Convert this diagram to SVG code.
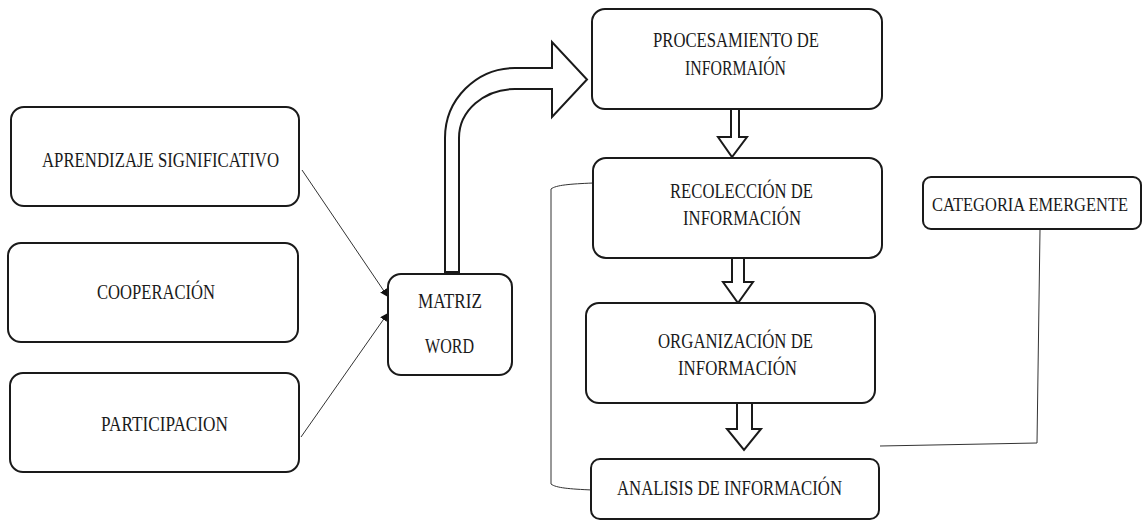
<svg xmlns="http://www.w3.org/2000/svg" width="1142" height="521" viewBox="0 0 1142 521">
<style>
.box{fill:#fff;stroke:#1a1a1a;stroke-width:2}
.t{font-family:'Liberation Serif','DejaVu Serif','Times New Roman',serif;font-size:21px;fill:#1a1a1a}
.ln{fill:none;stroke:#333;stroke-width:1}
.blk{fill:#fff;stroke:#1a1a1a;stroke-width:2;stroke-linejoin:miter}
</style>
<defs>
<marker id="ah" viewBox="0 0 10 10" refX="10" refY="5" markerWidth="8" markerHeight="8" orient="auto" markerUnits="userSpaceOnUse">
<path d="M0,0 L10,5 L0,10 Z" fill="#111"/>
</marker>
</defs>
<rect width="1142" height="521" fill="#fff"/>
<g id="connectors">
<line class="ln" x1="302" y1="170" x2="388" y2="297" marker-end="url(#ah)"/>
<line class="ln" x1="301" y1="437" x2="388" y2="313" marker-end="url(#ah)"/>
<path class="blk" d="M445,272 V138 A70,70 0 0 1 515,68 H552 V42 L587,79.5 L552,117 V89 H515 A56,49 0 0 0 459,138 V272 Z"/>
<path class="blk" d="M731,109 V137 H718 L732,157 L747,137 H739 V109"/>
<path class="blk" d="M732,258 V282 H723 L738,303 L753,282 H744 V258"/>
<path class="blk" d="M737,403 V429 H727 L744,450 L761,429 H752 V403"/>
<path class="ln" d="M593,183 C570,184 556,185 551,189 V484 C556,488 570,489 592,490"/>
<path class="ln" d="M1040,230 L1037,443 L880,446"/>
</g>
<g id="n-aprendizaje">
<rect class="box" x="11" y="107" width="288" height="99" rx="13"/>
<text class="t" x="42" y="167" textLength="237" lengthAdjust="spacingAndGlyphs">APRENDIZAJE SIGNIFICATIVO</text>
</g>
<g id="n-cooperacion">
<rect class="box" x="8" y="243" width="290" height="99" rx="13"/>
<text class="t" x="97" y="299" textLength="118" lengthAdjust="spacingAndGlyphs">COOPERACIÓN</text>
</g>
<g id="n-participacion">
<rect class="box" x="10" y="373" width="289" height="99" rx="13"/>
<text class="t" x="101" y="431" textLength="127" lengthAdjust="spacingAndGlyphs">PARTICIPACION</text>
</g>
<g id="n-matriz">
<rect class="box" x="388" y="274" width="124" height="101" rx="13"/>
<text class="t" x="418" y="308" textLength="64" lengthAdjust="spacingAndGlyphs">MATRIZ</text>
<text class="t" x="425" y="353" textLength="49" lengthAdjust="spacingAndGlyphs">WORD</text>
</g>
<g id="n-procesamiento">
<rect class="box" x="592" y="9" width="290" height="100" rx="13"/>
<text class="t" x="653" y="47" textLength="166" lengthAdjust="spacingAndGlyphs">PROCESAMIENTO DE</text>
<text class="t" x="685" y="75" textLength="101" lengthAdjust="spacingAndGlyphs">INFORMAIÓN</text>
</g>
<g id="n-recoleccion">
<rect class="box" x="593" y="158" width="289" height="100" rx="13"/>
<text class="t" x="670" y="198" textLength="143" lengthAdjust="spacingAndGlyphs">RECOLECCIÓN DE</text>
<text class="t" x="683" y="225" textLength="118" lengthAdjust="spacingAndGlyphs">INFORMACIÓN</text>
</g>
<g id="n-organizacion">
<rect class="box" x="586" y="303" width="289" height="100" rx="13"/>
<text class="t" x="658" y="348" textLength="155" lengthAdjust="spacingAndGlyphs">ORGANIZACIÓN DE</text>
<text class="t" x="678" y="375" textLength="119" lengthAdjust="spacingAndGlyphs">INFORMACIÓN</text>
</g>
<g id="n-analisis">
<rect class="box" x="591" y="459" width="288" height="60" rx="9"/>
<text class="t" x="617" y="495" textLength="225" lengthAdjust="spacingAndGlyphs">ANALISIS DE INFORMACIÓN</text>
</g>
<g id="n-categoria">
<rect class="box" x="923" y="177" width="218" height="52" rx="8"/>
<text class="t" style="font-size:19px" x="932" y="211" textLength="196" lengthAdjust="spacingAndGlyphs">CATEGORIA EMERGENTE</text>
</g>
</svg>
